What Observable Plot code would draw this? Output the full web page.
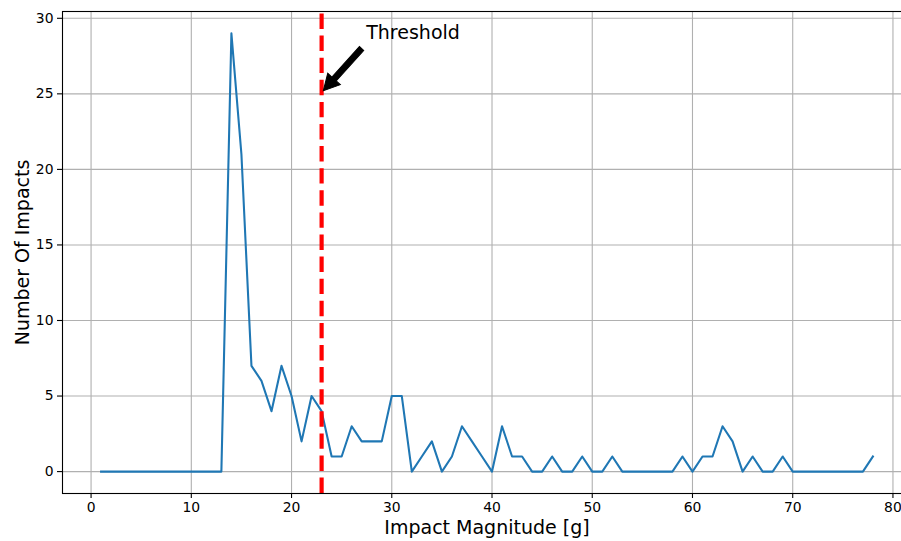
<!DOCTYPE html>
<html>
<head>
<meta charset="utf-8">
<script src="https://cdn.jsdelivr.net/npm/d3@7"></script>
<script src="https://cdn.jsdelivr.net/npm/@observablehq/plot@0.6"></script>
<style>
  html, body { margin: 0; padding: 0; background: #fff; overflow: hidden; width: 901px; height: 541px; }
  #chart { width: 901px; height: 541px; overflow: hidden; }
  #chart svg { max-width: none !important; }
</style>
</head>
<body>
<div id="chart"></div>
<script>
// ---- data ----
const magnitudes = [1,2,3,4,5,6,7,8,9,10,11,12,13,14,15,16,17,18,19,20,21,22,23,24,25,26,27,28,29,30,
  31,32,33,34,35,36,37,38,39,40,41,42,43,44,45,46,47,48,49,50,51,52,53,54,55,56,57,58,59,60,
  61,62,63,64,65,66,67,68,69,70,71,72,73,74,75,76,77,78];
const impacts = [0,0,0,0,0,0,0,0,0,0,0,0,0,29,21,7,6,4,7,5,2,5,4,1,1,3,2,2,2,5,
  5,0,1,2,0,1,3,2,1,0,3,1,1,0,0,1,0,0,1,0,0,1,0,0,0,0,0,0,1,0,
  1,1,3,2,0,1,0,0,1,0,0,0,0,0,0,0,0,1];
const threshold = [23];
const xTicks = [0,10,20,30,40,50,60,70,80];
const yTicks = [0,5,10,15,20,25,30];
const xDomain = [-2.85, 81.85];
const yDomain = [-1.45, 30.45];
const annotationText = ["Threshold"];
const annotationTextPos = [27.45, 28.64];
const arrowTip = [23.17, 25.2];
const arrowTail = [26.99, 28.0];

const data = magnitudes.map((m, i) => ({m, n: impacts[i]}));

const W = 912, H = 541, ML = 62, MR = 1, MT = 11, MB = 48;
const font = "DejaVu Sans, sans-serif";

// scales to compute arrow geometry in pixels
const sx = Plot.scale({x: {domain: xDomain, range: [ML, W - MR]}});
const sy = Plot.scale({y: {domain: yDomain, range: [H - MB, MT]}});
const dxp = sx.apply(arrowTip[0]) - sx.apply(arrowTail[0]);
const dyp = sy.apply(arrowTip[1]) - sy.apply(arrowTail[1]);
const arrowLen = Math.hypot(dxp, dyp);
const arrowRot = Math.atan2(dxp, -dyp) * 180 / Math.PI;

const fatArrow = {
  draw(ctx, l) {
    const hw = 2.9, hh = 8.5, hl = 16;
    ctx.moveTo(-hw, 0);
    ctx.lineTo(-hw, -(l - hl));
    ctx.lineTo(-hh, -(l - hl));
    ctx.lineTo(0, -l);
    ctx.lineTo(hh, -(l - hl));
    ctx.lineTo(hw, -(l - hl));
    ctx.lineTo(hw, 0);
    ctx.closePath();
  }
};

const plot = Plot.plot({
  width: W,
  height: H,
  marginLeft: ML,
  marginRight: MR,
  marginTop: MT,
  marginBottom: MB,
  style: {fontFamily: font, fontSize: "13.9px", color: "black", background: "white", overflow: "visible", maxWidth: "none"},
  x: {domain: xDomain, label: null},
  y: {domain: yDomain, label: null},
  marks: [
    Plot.gridX(xTicks, {stroke: "#b0b0b0", strokeOpacity: 1, strokeWidth: 1.1}),
    Plot.gridY(yTicks, {stroke: "#b0b0b0", strokeOpacity: 1, strokeWidth: 1.1}),
    Plot.axisX(xTicks, {tickSize: 5, tickPadding: 4, stroke: "black", strokeWidth: 1.1, fontSize: 13.9, fill: "black", label: null}),
    Plot.axisY(yTicks, {tickSize: 5, tickPadding: 4, stroke: "black", strokeWidth: 1.1, fontSize: 13.9, fill: "black", label: null}),
    Plot.line(data, {x: "m", y: "n", stroke: "#1f77b4", strokeWidth: 2.08, strokeLinejoin: "round", strokeLinecap: "square"}),
    Plot.ruleX(threshold, {x: d => d, y1: yDomain[0], y2: yDomain[1], stroke: "red", strokeWidth: 4.17, strokeDasharray: "15.4,6.7"}),
    Plot.vector([0], {x: () => arrowTip[0], y: () => arrowTip[1], length: arrowLen, rotate: arrowRot, anchor: "end", shape: fatArrow, fill: "black", stroke: "black", strokeWidth: 1, strokeLinejoin: "miter"}),
    Plot.text(annotationText, {x: () => annotationTextPos[0], y: () => annotationTextPos[1], text: d => d, textAnchor: "start", lineAnchor: "bottom", fontSize: 19, fill: "black"}),
    Plot.frame({stroke: "black", strokeWidth: 1.1}),
    Plot.text(["Impact Magnitude [g]"], {frameAnchor: "bottom", dy: 40, text: d => d, textAnchor: "middle", lineAnchor: "bottom", fontSize: 19, fill: "black"}),
    Plot.text(["Number Of Impacts"], {frameAnchor: "left", dx: -34, rotate: -90, text: d => d, textAnchor: "middle", lineAnchor: "bottom", fontSize: 19, fill: "black"})
  ]
});
plot.style.maxWidth = "none";
document.getElementById("chart").appendChild(plot);
</script>
</body>
</html>
